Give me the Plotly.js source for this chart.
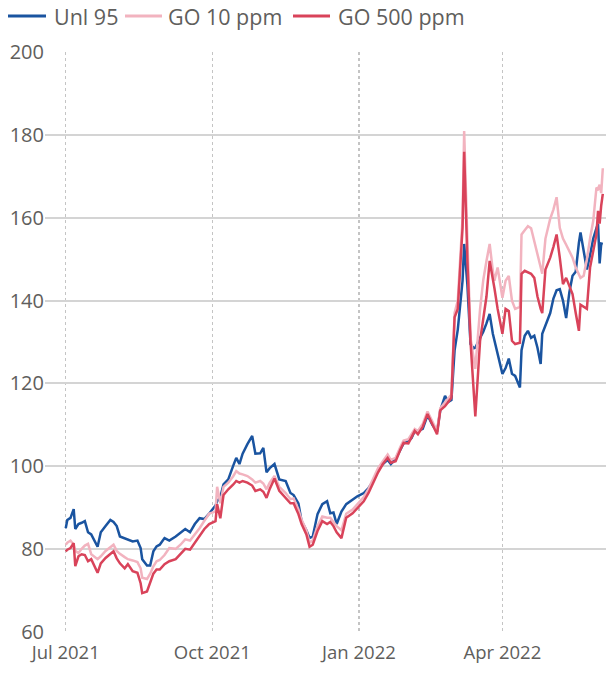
<!DOCTYPE html>
<html>
<head>
<meta charset="utf-8">
<script src="https://cdn.plot.ly/plotly-3.0.1.min.js"></script>
<style>html,body{margin:0;padding:0;background:#fff}#chart{width:606px;height:674px}</style>
</head>
<body>
<div id="chart"></div>
<script>
const dates = ["2021-07-01","2021-07-02","2021-07-04","2021-07-06","2021-07-07","2021-07-09","2021-07-11","2021-07-13","2021-07-15","2021-07-17",
"2021-07-21","2021-07-23","2021-07-26","2021-07-29","2021-07-31","2021-08-02","2021-08-04","2021-08-07","2021-08-09","2021-08-12",
"2021-08-15","2021-08-17","2021-08-18","2021-08-21","2021-08-23","2021-08-25","2021-08-27","2021-08-29","2021-09-01","2021-09-04",
"2021-09-08","2021-09-11","2021-09-14","2021-09-17","2021-09-20","2021-09-23","2021-09-26","2021-09-29","2021-10-03","2021-10-04",
"2021-10-06","2021-10-08","2021-10-11","2021-10-14","2021-10-16","2021-10-18","2021-10-20","2021-10-23","2021-10-26","2021-10-28",
"2021-10-31","2021-11-02","2021-11-04","2021-11-06","2021-11-09","2021-11-12","2021-11-16","2021-11-19","2021-11-21","2021-11-24",
"2021-11-26","2021-11-29","2021-12-01","2021-12-03","2021-12-06","2021-12-09","2021-12-12","2021-12-14","2021-12-16","2021-12-18",
"2021-12-21","2021-12-24","2021-12-28","2021-12-31","2022-01-04","2022-01-07","2022-01-10","2022-01-13","2022-01-16","2022-01-19",
"2022-01-21","2022-01-24","2022-01-27","2022-01-29","2022-02-01","2022-02-03","2022-02-05","2022-02-07","2022-02-10","2022-02-13",
"2022-02-16","2022-02-19","2022-02-21","2022-02-24","2022-02-26","2022-02-28","2022-03-02","2022-03-04","2022-03-07","2022-03-08",
"2022-03-10","2022-03-12","2022-03-14","2022-03-15","2022-03-18","2022-03-20","2022-03-22","2022-03-24","2022-03-26","2022-03-27",
"2022-03-29","2022-04-01","2022-04-03","2022-04-05","2022-04-07","2022-04-09","2022-04-12","2022-04-13","2022-04-15","2022-04-17",
"2022-04-19","2022-04-21","2022-04-23","2022-04-25","2022-04-26","2022-04-28","2022-05-01","2022-05-03","2022-05-05","2022-05-07",
"2022-05-09","2022-05-11","2022-05-13","2022-05-15","2022-05-17","2022-05-19","2022-05-20","2022-05-22","2022-05-24","2022-05-26",
"2022-05-28","2022-05-30","2022-05-31","2022-06-01","2022-06-02","2022-06-03"];

const unl95 = [85,87,87.5,89.6,84.8,86,86.3,86.7,84,83.5,
80.5,84,85.5,87,86.5,85.5,83,82.6,82.3,81.8,
82,80.2,77.5,76,76,79.4,80.6,81,82.6,82,
83,84,84.8,84,86,87.4,87.2,88.5,90.5,91.5,
92.5,95.6,96.8,100,102,100.5,103,105.3,107.3,103,
103.1,104.4,98.5,99.5,100.5,96.8,96.4,93.5,93,91,
86.7,84.5,82.6,83,88.4,90.8,91.5,88.6,88.8,86,
89,90.8,92,92.7,93.5,94.7,96.4,99,100.5,101.5,
100.5,101.8,104,105.5,106,106.8,108.5,108.5,109,112.3,
110,108.3,113.5,117,115.5,116,128,133,144.8,153.7,
144,129.5,128.5,128.6,131,132.5,134.5,136.8,132,130.3,
127,122.3,123.7,126,122.3,121.8,119,128,131.5,132.7,
131,131.5,128.6,124.7,132,134,137,140.5,142.5,142.8,
140,135.8,142,146,147,154,156.5,152,147.5,151,
155,157.5,158.6,149,153.8,153.7];

const go10 = [81,81.5,82,81,79.5,79,80,80.8,81.2,78.7,
77.5,78.2,79.5,80.5,81,79.5,78.8,78,77.5,77.2,
76.8,75.3,73,72.7,74,75.8,77,77.3,78.5,80.2,
80,81,82.3,82,83.5,85,86.8,88.5,89,95,
91,95,96,97.5,98.8,98.2,98,97.6,96.8,96,
96.4,95.8,94.4,96,97.6,95,93.5,92,92.2,89.5,
87,84.5,81.5,82,85.5,87.8,87.5,87.5,86.5,85.5,
84.5,88.5,89.5,90.8,92.5,94.5,97,99.5,101.2,102.8,
101.5,102,104.7,106.2,106.5,107.8,109,108.5,110.2,113.2,
110.8,108.5,114,115.5,116.3,117.3,137,140,160,181,
155,131,126,123.5,138,145,149.6,153.7,147.2,144.8,
148,140.7,144.8,146,140,138,138.5,156,157,158,
157.5,154.5,151.3,148.5,146.5,155,159.8,162,165,157.6,
155,153.5,151.8,150.4,148,146.5,145.5,146,150,155,
159.3,167.3,167,168,166,172];

const go500 = [79.4,79.8,80.2,81.4,75.8,78.2,78.7,78.5,77,77.5,
74.2,76.5,77.8,78.8,79.4,77.7,76.5,75.3,76.3,74.6,
74.2,71.7,69.3,69.7,72,74,75,75,76.3,77,
77.5,78.7,80,79.8,81.4,83,84.8,86,86.7,90.8,
87.4,93,94.4,95.5,96.4,96,96.4,96,95.3,94,
94.4,93.8,92.3,94.5,97,94,92.2,91,91,88.4,
86,83.5,80.5,81,84.3,86.7,86,86.5,85.5,84,
82.6,87.5,88.6,89.8,91.5,93.5,96,98.5,100.5,102,
100.8,101.2,104,105.6,105.5,107,108.5,107.7,109.5,112.6,
110,107.7,113.5,114.5,115.5,116.5,136,138,157.6,176,
150,130,118,112,130.3,136,141,149.6,145.5,143,
138,132,138,137.5,130.3,129.5,129.8,146.5,147.2,146.8,
146.5,145.5,141,138,137,147.5,150.4,153,156,150.4,
144,145.5,143.5,141.6,137,132.7,139,138.5,138,148,
152,156,161.7,158.6,163,165.8];

const seriesNames = ["Unl 95", "GO 10 ppm", "GO 500 ppm"];
const tickDates = ["2021-07-01","2021-10-01","2022-01-01","2022-04-01"];
const tickLabels = ["Jul 2021","Oct 2021","Jan 2022","Apr 2022"];
const yTicks = [60,80,100,120,140,160,180,200];

const colors = ["#1a54a0", "#f2b3bf", "#d9435a"];
const vals = [unl95, go10, go500];
const traces = vals.map((v, i) => ({
  type: "scatter", mode: "lines", x: dates, y: v, name: seriesNames[i],
  line: {color: colors[i], width: 2.5}, showlegend: false
}));

// Plot area geometry (pixels) used to place the custom legend
const W = 606, H = 674, M = {l: 45, r: 0, t: 52, b: 42};
const pw = W - M.l - M.r, ph = H - M.t - M.b;
const px = x => (x - M.l) / pw;
const py = y => (H - M.b - y) / ph;

// Legend: sample line start/end and text start (pixels)
const legendItems = [
  {x0: 8, x1: 46, tx: 52},
  {x0: 125, x1: 162, tx: 166},
  {x0: 293, x1: 330, tx: 336}
];
const legY = 16;
const shapes = legendItems.map((it, i) => ({
  type: "line", xref: "paper", yref: "paper", x0: px(it.x0), x1: px(it.x1), y0: py(legY), y1: py(legY),
  line: {color: colors[i], width: 3}
}));
const font = "'Segoe UI', 'Open Sans', 'Noto Sans', sans-serif";
const annotations = legendItems.map((it, i) => ({
  xref: "paper", yref: "paper", x: px(it.tx), y: py(legY), xanchor: "left", yanchor: "middle",
  text: seriesNames[i], showarrow: false, font: {size: 21.5, color: "#605e5c", family: font}
}));

const layout = {
  width: W, height: H,
  margin: M,
  paper_bgcolor: "#fff", plot_bgcolor: "#fff",
  font: {family: font, color: "#605e5c", size: 20},
  showlegend: false,
  shapes: shapes, annotations: annotations,
  xaxis: {type: "date", range: ["2021-06-18", "2022-06-05"], tickmode: "array", tickvals: tickDates, ticktext: tickLabels,
          showgrid: true, gridcolor: "#c4c4c4", griddash: "dot", gridwidth: 1.2, zeroline: false, showline: false,
          ticks: "", ticklabelstandoff: 7, tickfont: {size: 18.5, color: "#605e5c"}},
  yaxis: {range: [59.9, 200.1], tickmode: "array", tickvals: yTicks, showgrid: true, gridcolor: "#d4d4d4", gridwidth: 2,
          zeroline: false, showline: false, ticks: "", tickfont: {size: 20, color: "#605e5c"}}
};
Plotly.newPlot("chart", traces, layout, {displayModeBar: false, staticPlot: true});
</script>
</body>
</html>
